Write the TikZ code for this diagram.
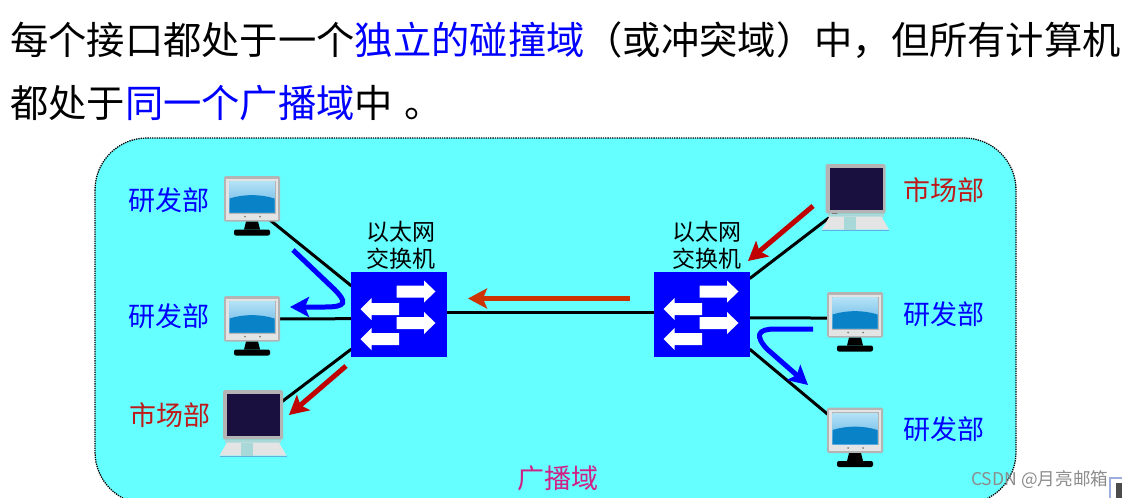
\documentclass[tikz,border=0pt]{standalone}
\usepackage{fontspec}
\setmainfont{Noto Sans CJK SC}
\usetikzlibrary{arrows.meta}
\definecolor{bgcyan}{HTML}{66FFFF}
\definecolor{swblue}{HTML}{0000FF}
\definecolor{redlabel}{HTML}{BE1A1A}
\definecolor{redarrow}{HTML}{C00000}
\definecolor{orangearrow}{HTML}{CC3300}
\definecolor{bezel}{HTML}{E4E4E4}
\definecolor{bezelrim}{HTML}{B4B4B4}
\definecolor{lcd}{HTML}{1A1040}
\definecolor{glasstop}{HTML}{B4E2F6}
\definecolor{glassmid}{HTML}{5FB0E4}
\definecolor{glasslow}{HTML}{0A82C8}
\definecolor{lapstrip}{HTML}{A8D8D8}
\tikzset{
  link/.style={line width=3pt},
  swbox/.style={fill=swblue,minimum width=95pt,minimum height=85pt,inner sep=0pt},
  pcbox/.style={minimum width=56pt,minimum height=59pt,inner sep=0pt},
  lapbox/.style={minimum width=67pt,minimum height=67pt,inner sep=0pt},
  dept/.style={font=\fontsize{27}{27}\selectfont,inner sep=0pt},
  swlabel/.style={font=\fontsize{23}{27}\selectfont,align=center,inner sep=0pt},
  headline/.style={font=\fontsize{38.3}{46}\selectfont,anchor=west,inner sep=0pt},
  flow/.style={line width=5pt,-{Stealth[length=19pt,width=20pt,inset=4pt]}},
  monitor/.pic={
    \fill[bezelrim,rounded corners=1.5pt] (-28,-29.5) rectangle (28,16);
    \fill[bezel] (-26,-27) rectangle (26,14);
    \fill[black] (-6,16) -- (6,16) -- (8,24) -- (-8,24) -- cycle;
    \fill[black,rounded corners=2pt] (-18,24) rectangle (18,30);
    \fill[bezelrim] (-23.5,-25) rectangle (23.5,8);
    \shade[top color=glasstop,bottom color=glassmid] (-22.5,-24) rectangle (22.5,7);
    \fill[glasslow] (-22.5,-7) .. controls (-8,-11.5) and (8,-11.5) .. (22.5,-7) -- (22.5,7) -- (-22.5,7) -- cycle;
    \foreach \x in {-7,8} \fill[gray] (\x,11) circle (1);
  },
  laptop/.pic={
    \fill[bezelrim,rounded corners=1.5pt] (-30,-33.5) rectangle (30,16);
    \fill[lcd] (-26,-29.5) rectangle (27,12);
    \fill[lapstrip] (-28,16) rectangle (28,19);
    \fill[bezel] (-26,19) -- (26,19) -- (33.5,32) -- (-33.5,32) -- cycle;
    \fill[lapstrip] (-12,19) rectangle (0,32);
    \fill[glassmid] (-33.5,32) rectangle (33.5,33.5);
  },
  swarrows/.pic={
    \foreach \y in {-23,8.5}
      \fill[white] (-2.5,\y-6) -- (25,\y-6) -- (25,\y-11) -- (36.5,\y) -- (25,\y+11) -- (25,\y+6) -- (-2.5,\y+6) -- cycle;
    \foreach \y in {-5.5,24.5}
      \fill[white] (0,\y-6) -- (-27.5,\y-6) -- (-27.5,\y-11) -- (-38.5,\y) -- (-27.5,\y+11) -- (-27.5,\y+6) -- (0,\y+6) -- cycle;
  }
}
\begin{document}
\begin{tikzpicture}[x=1pt,y=-1pt]
\useasboundingbox (0,0) rectangle (1122,498);
\clip (0,0) rectangle (1122,498);
% background
\draw[fill=bgcyan,densely dotted,line width=1.3pt,rounded corners=52pt] (95,138) rectangle (1016,504);
% heading
\node[headline] (head1) at (10,40) {每个接口都处于一个\textcolor{swblue}{独立的碰撞域}\symbol{"FF08}或冲突域\symbol{"FF09}中\symbol{"FF0C}但所有计算机};
\node[headline] (head2) at (10,103) {都处于\textcolor{swblue}{同一个广播域}中\hspace{11pt}\symbol{"3002}};
% nodes
\node[swbox] (sw1) at (399,314.5) {};
\node[swbox] (sw2) at (702,314.5) {};
\node[pcbox] (pc1) at (252,205.5) {};
\node[pcbox] (pc2) at (252,325.5) {};
\node[lapbox] (lap1) at (253,423.5) {};
\node[lapbox] (lap2) at (855.5,197.5) {};
\node[pcbox] (pc3) at (855,321.5) {};
\node[pcbox] (pc4) at (855,437) {};
% links
\draw[link] (sw1.2) -- (sw2.178);
\draw[link] (sw1.149) -- (pc1.center);
\draw[link] (sw1.185) -- (pc2.13);
\draw[link] (sw1.216) -- (lap1.center);
\draw[link] (sw2.37) -- (lap2.center);
\draw[link] (sw2.-4) -- (pc3.173);
\draw[link] (sw2.-36) -- (pc4.center);
% devices
\fill[swblue] (sw1.north west) rectangle (sw1.south east);
\fill[swblue] (sw2.north west) rectangle (sw2.south east);
\pic at (sw1) {swarrows};
\pic at (sw2) {swarrows};
\foreach \n in {pc1,pc2,pc3,pc4} \pic at (\n) {monitor};
\foreach \n in {lap1,lap2} \pic at (\n) {laptop};
% labels
\node[swlabel,above=1pt,xshift=1.5pt,yshift=1pt] (sw1text) at (sw1.north) {以太网\\交换机};
\node[swlabel,above=1pt,xshift=4.5pt,yshift=1pt] (sw2text) at (sw2.north) {以太网\\交换机};
\node[dept,text=swblue] (d1) at (168.5,200) {研发部};
\node[dept,text=swblue] (d2) at (168.5,316) {研发部};
\node[dept,text=redlabel] (d3) at (169.5,415) {市场部};
\node[dept,text=redlabel] (d4) at (944,190) {市场部};
\node[dept,text=swblue] (d5) at (944,314) {研发部};
\node[dept,text=swblue] (d6) at (944,429) {研发部};
\node[dept,text=magenta!85!black] (domain) at (558,478) {广播域};
% flow arrows
\coordinate (a1) at (293,250);
\coordinate (a2) at (290,307);
\coordinate (b1) at (346,366);
\coordinate (b2) at (289,415);
\coordinate (c1) at (630,298.5);
\coordinate (c2) at (468,298.5);
\coordinate (e1) at (813,206);
\coordinate (e2) at (748,261);
\coordinate (f1) at (813,329);
\coordinate (f2) at (808,385);
\draw[flow,swblue] (a1) -- (334,289) .. controls (347,302) and (347,307) .. (325,307) -- (a2);
\draw[flow,redarrow] (b1) -- (b2);
\draw[flow,orangearrow] (c1) -- (c2);
\draw[flow,redarrow] (e1) -- (e2);
\draw[flow,swblue] (f1) -- (775,329) .. controls (757,329) and (755,336) .. (767,349) -- (f2);
% watermark
\node[font=\fontsize{17.6}{18}\selectfont,text=gray!90,inner sep=0pt,anchor=west] (mark) at (971,480) {CSDN @月亮邮箱};
\node[draw=cyan!40!blue!40,line width=2pt,fill=white,minimum size=24pt,inner sep=0pt,anchor=north west] (qr) at (1109,477) {};
\fill[black!70] (1116,483) rectangle (1122,498);
\end{tikzpicture}
\end{document}
